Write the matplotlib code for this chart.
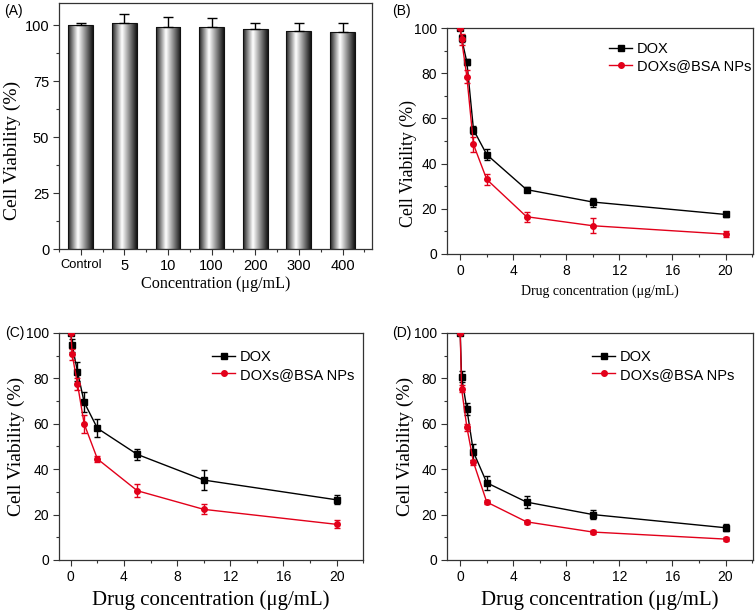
import numpy as np
import matplotlib
matplotlib.use("Agg")
import matplotlib.pyplot as plt
from matplotlib.ticker import MultipleLocator
from matplotlib.lines import Line2D

# ---------------- data ----------------
bar_labels = ["Control", "5", "10", "100", "200", "300", "400"]
bar_values = [100.0, 101.3, 99.5, 99.4, 98.2, 97.6, 96.9]
bar_errors = [1.3, 3.8, 4.2, 3.7, 3.0, 3.4, 4.4]

conc = [0, 0.1, 0.5, 1, 2, 5, 10, 20]

b_dox = [100, 95.5, 85, 55, 44, 28.5, 23, 17.5]
b_dox_err = [0, 1.5, 1.5, 1.8, 2.5, 1.2, 2.0, 1.2]
b_np = [100, 95, 78.5, 48.5, 33, 16.5, 12.5, 8.8]
b_np_err = [0.5, 2.5, 3.0, 3.5, 2.5, 2.2, 3.3, 1.5]

c_dox = [100, 94.5, 83, 69.5, 58, 46.5, 35.2, 26.5]
c_dox_err = [0, 3.0, 4.0, 4.5, 4.0, 2.5, 4.5, 2.0]
c_np = [100, 90.5, 77.5, 60, 44.5, 30.5, 22.3, 15.7]
c_np_err = [0.5, 2.5, 2.5, 4.0, 1.2, 2.8, 2.2, 1.8]

d_dox = [100, 80.8, 66.5, 47.5, 34, 25.5, 20, 14.2]
d_dox_err = [0, 2.5, 2.5, 3.5, 3.2, 2.7, 1.8, 1.5]
d_np = [100, 75.5, 58.5, 43, 25.5, 16.8, 12.3, 9.2]
d_np_err = [0.5, 1.5, 1.5, 1.2, 1.0, 0.8, 0.7, 0.8]

series_names = ["DOX", "DOXs@BSA NPs"]

# ---------------- style ----------------
SANS = "Liberation Sans"
SERIF = "Liberation Serif"
RED = "#e2001a"
SPINE = "#333333"

fig = plt.figure(figsize=(7.55, 6.12), dpi=100)


def style_axes(ax, tick_size=10):
    for s in ["top", "right", "bottom", "left"]:
        ax.spines[s].set_color(SPINE)
        ax.spines[s].set_linewidth(0.9)
    ax.tick_params(which="both", direction="out", top=False, right=False,
                   colors=SPINE, labelcolor="black", width=0.8)
    ax.tick_params(which="major", length=4, labelsize=tick_size, pad=3)
    ax.tick_params(which="minor", length=2.5)
    for lab in ax.get_xticklabels() + ax.get_yticklabels():
        lab.set_fontfamily(SANS)


# ---------------- panel A ----------------
axA = fig.add_axes([0.078, 0.593, 0.415, 0.402])
xpos = np.arange(len(bar_labels))
width = 0.57
grad = np.concatenate([np.linspace(0.12, 1.0, 40), np.linspace(1.0, 0.08, 60)])
grad = grad.reshape(1, -1)
bars = axA.bar(xpos, bar_values, width=width, color="none",
               edgecolor="#111111", linewidth=0.8, zorder=3)
for rect in bars:
    x0 = rect.get_x()
    h = rect.get_height()
    im = axA.imshow(grad, cmap="gray", vmin=0, vmax=1, aspect="auto",
                    extent=[x0, x0 + rect.get_width(), 0, h], zorder=2,
                    interpolation="bicubic")
    im.set_clip_path(rect)
axA.errorbar(xpos, bar_values,
             yerr=[np.zeros(len(bar_errors)), bar_errors],
             fmt="none", ecolor="black", elinewidth=1.0, capsize=3.5,
             capthick=1.0, zorder=4)
axA.set_xlim(-0.5, 6.68)
axA.set_ylim(0, 110)
axA.set_xticks(xpos)
axA.set_xticklabels(bar_labels)
axA.xaxis.set_minor_locator(MultipleLocator(0.5))
axA.set_yticks([0, 25, 50, 75, 100])
axA.yaxis.set_minor_locator(MultipleLocator(12.5))
style_axes(axA, tick_size=10.5)
for lab in axA.get_xticklabels():
    if lab.get_text() == "Control":
        lab.set_fontsize(9.3)
axA.set_ylabel("Cell Viability (%)", fontfamily=SERIF, fontsize=14)
axA.yaxis.set_label_coords(-0.122, 0.40)
axA.set_xlabel("Concentration (μg/mL)", fontfamily=SERIF, fontsize=11.6, labelpad=2)
fig.text(0.006, 0.982, "(A)", fontfamily=SANS, fontsize=10, va="center")


def curve_panel(rect, dox, dox_err, npv, np_err, xlim, label, label_xy,
                tick_size, xlab_size, ylab_size, ylab_coords, leg_anchor):
    ax = fig.add_axes(rect)
    ax.errorbar(conc, dox, yerr=dox_err, color="black", marker="s",
                markersize=4, linewidth=1.0, elinewidth=1.0, capsize=2.5,
                capthick=1.0, zorder=3)
    ax.errorbar(conc, npv, yerr=np_err, color=RED, marker="o",
                markersize=4, linewidth=1.0, elinewidth=1.0, capsize=2.5,
                capthick=1.0, zorder=4)
    ax.set_xlim(*xlim)
    ax.set_ylim(0, 100)
    ax.set_xticks([0, 4, 8, 12, 16, 20])
    ax.xaxis.set_minor_locator(MultipleLocator(2))
    ax.set_yticks([0, 20, 40, 60, 80, 100])
    ax.yaxis.set_minor_locator(MultipleLocator(10))
    style_axes(ax, tick_size=tick_size)
    ax.set_ylabel("Cell Viability (%)", fontfamily=SERIF, fontsize=ylab_size)
    ax.yaxis.set_label_coords(*ylab_coords)
    ax.set_xlabel("Drug concentration (μg/mL)", fontfamily=SERIF,
                  fontsize=xlab_size, labelpad=5)
    handles = [Line2D([], [], color="black", marker="s", markersize=4, lw=1.0),
               Line2D([], [], color=RED, marker="o", markersize=4, lw=1.0)]
    ax.legend(handles, series_names, loc="upper left", bbox_to_anchor=leg_anchor,
              frameon=False, prop={"family": SANS, "size": 10.5},
              handlelength=1.6, handletextpad=0.3, labelspacing=0.25,
              borderaxespad=0, borderpad=0)
    fig.text(label_xy[0], label_xy[1], label, fontfamily=SANS, fontsize=10,
             va="center")
    return ax


curve_panel([0.592, 0.585, 0.405, 0.369], b_dox, b_dox_err, b_np, b_np_err,
            (-1.0, 22.05), "(B)", (0.519, 0.982), 10, 10, 12.8,
            (-0.098, 0.40), (0.53, 0.94))
curve_panel([0.078, 0.085, 0.403, 0.371], c_dox, c_dox_err, c_np, c_np_err,
            (-0.9, 22.0), "(C)", (0.007, 0.456), 10, 15, 14,
            (-0.112, 0.5), (0.503, 0.925))
curve_panel([0.592, 0.085, 0.405, 0.371], d_dox, d_dox_err, d_np, d_np_err,
            (-1.0, 22.05), "(D)", (0.519, 0.456), 10, 15, 14,
            (-0.108, 0.5), (0.474, 0.925))

fig.savefig("out.png", dpi=100)
